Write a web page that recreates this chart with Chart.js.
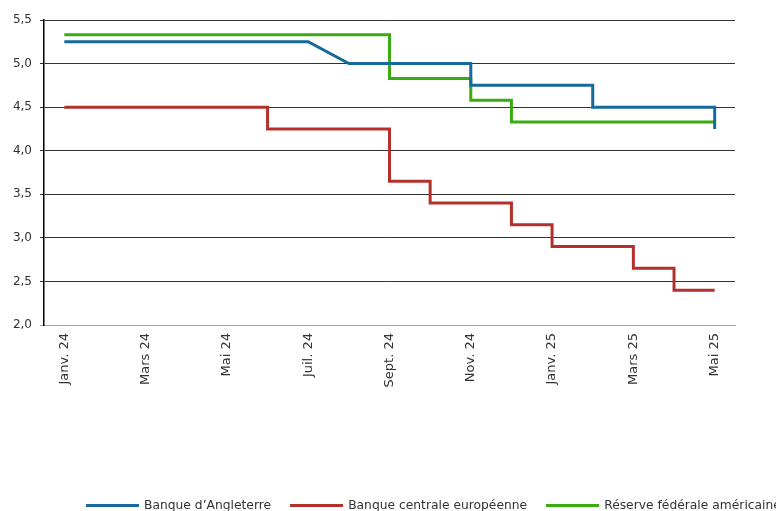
<!DOCTYPE html>
<html lang="fr">
<head>
<meta charset="utf-8">
<title>Taux directeurs</title>
<script src="https://cdn.jsdelivr.net/npm/chart.js@4/dist/chart.umd.min.js"></script>
<style>
    html, body { margin: 0; padding: 0; background: #fff; }
    #wrap { position: relative; width: 776px; height: 511px; overflow: hidden; }
    #legend { position: absolute; left: 86px; top: 498px; white-space: nowrap;
        font-family: "DejaVu Sans", sans-serif; font-size: 12.3px; color: #333; }
    #legend .item { display: inline-block; margin-right: 19px; }
    #legend .line { display: inline-block; width: 53px; height: 3px; vertical-align: middle; margin-right: 5px; }
</style>
</head>
<body>
<div id="wrap">
    <canvas id="ratesChart" width="776" height="511"></canvas>
    <div id="legend"></div>
</div>
<script>
const months = ["Janv. 24", "Févr. 24", "Mars 24", "Avr. 24", "Mai 24", "Juin 24", "Juil. 24", "Août 24",
    "Sept. 24", "Oct. 24", "Nov. 24", "Déc. 24", "Janv. 25", "Févr. 25", "Mars 25", "Avr. 25", "Mai 25"];

const seriesNames = ["Banque d’Angleterre", "Banque centrale européenne", "Réserve fédérale américaine"];
const seriesColors = ["#16699b", "#b3302c", "#3aab12"];

// [mois, taux] ; deux points sur le même mois = changement de taux
const boeRates = [["Janv. 24", 5.25], ["Juil. 24", 5.25], ["Août 24", 5.0], ["Nov. 24", 5.0], ["Nov. 24", 4.75],
    ["Févr. 25", 4.75], ["Févr. 25", 4.5], ["Mai 25", 4.5], ["Mai 25", 4.25]];
const ecbRates = [["Janv. 24", 4.5], ["Juin 24", 4.5], ["Juin 24", 4.25], ["Sept. 24", 4.25], ["Sept. 24", 3.65],
    ["Oct. 24", 3.65], ["Oct. 24", 3.4], ["Déc. 24", 3.4], ["Déc. 24", 3.15], ["Janv. 25", 3.15], ["Janv. 25", 2.9],
    ["Mars 25", 2.9], ["Mars 25", 2.65], ["Avr. 25", 2.65], ["Avr. 25", 2.4], ["Mai 25", 2.4]];
const fedRates = [["Janv. 24", 5.33], ["Sept. 24", 5.33], ["Sept. 24", 4.83], ["Nov. 24", 4.83], ["Nov. 24", 4.58],
    ["Déc. 24", 4.58], ["Déc. 24", 4.33], ["Mai 25", 4.33]];

const yTicks = [2.0, 2.5, 3.0, 3.5, 4.0, 4.5, 5.0, 5.5];

const allRates = [boeRates, ecbRates, fedRates];

const ctx = document.getElementById("ratesChart").getContext("2d");
new Chart(ctx, {
    type: "line",
    data: {
        labels: months,
        datasets: allRates.map(function(rates, i) {
            return {
                label: seriesNames[i],
                data: rates.map(function(r) { return { x: r[0], y: r[1] }; }),
                borderColor: seriesColors[i],
                backgroundColor: seriesColors[i],
                borderWidth: 3,
                pointRadius: 0,
                tension: 0,
                fill: false
            };
        })
    },
    options: {
        responsive: false,
        animation: false,
        layout: { padding: { left: 0, right: 41, top: 20, bottom: 0 } },
        plugins: {
            legend: { display: false },
            tooltip: { enabled: false }
        },
        scales: {
            x: {
                type: "category",
                offset: true,
                grid: { display: false, drawTicks: false },
                border: { display: true, color: "#a8a8a8", width: 1 },
                ticks: {
                    autoSkip: false,
                    maxRotation: 90,
                    minRotation: 90,
                    padding: 8,
                    color: "#333",
                    font: { family: "'DejaVu Sans', sans-serif", size: 13 },
                    callback: function(value, index) {
                        return index % 2 === 0 ? months[index] : null;
                    }
                },
                afterFit: function(scale) { scale.height = 186; }
            },
            y: {
                min: 2,
                max: 5.5,
                afterBuildTicks: function(scale) {
                    scale.ticks = yTicks.map(function(v) { return { value: v }; });
                },
                grid: {
                    color: function(c) { return c.tick && c.tick.value === 2 ? "#a8a8a8" : "#333"; },
                    lineWidth: 1,
                    tickLength: 4
                },
                border: { display: true, color: "#000", width: 1.5 },
                ticks: {
                    padding: 8,
                    color: "#333",
                    font: { family: "'DejaVu Sans', sans-serif", size: 12 },
                    callback: function(v) { return v.toFixed(1).replace(".", ","); }
                },
                afterFit: function(scale) { scale.width = 44; }
            }
        }
    }
});

const legend = document.getElementById("legend");
seriesNames.forEach(function(name, i) {
    const item = document.createElement("span");
    item.className = "item";
    const line = document.createElement("span");
    line.className = "line";
    line.style.background = seriesColors[i];
    item.appendChild(line);
    item.appendChild(document.createTextNode(name));
    legend.appendChild(item);
});
</script>
</body>
</html>
